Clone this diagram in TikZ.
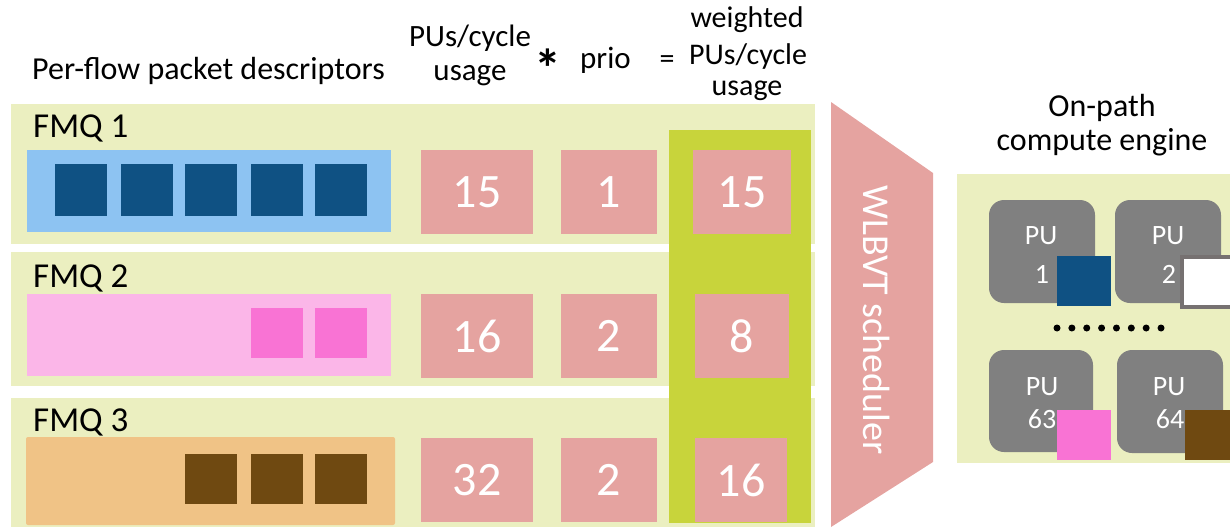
\documentclass[tikz,border=0pt]{standalone}
\usepackage{fontspec}
\setmainfont{Carlito}
\definecolor{band}{HTML}{EBEFC0}
\definecolor{qblue}{HTML}{8DC3F2}
\definecolor{pblue}{HTML}{0F5183}
\definecolor{qpink}{HTML}{FBB6E8}
\definecolor{ppink}{HTML}{F973D4}
\definecolor{qorange}{HTML}{F0C386}
\definecolor{pbrown}{HTML}{6F4911}
\definecolor{numbox}{HTML}{E5A3A0}
\definecolor{wcol}{HTML}{C8D43B}
\definecolor{pugray}{HTML}{808080}
\definecolor{edgegray}{HTML}{767171}
\tikzset{
  hdr/.style={inner sep=0pt, font=\fontsize{30}{36}\selectfont, text=black},
  fmq/.style={inner sep=0pt, font=\fontsize{35}{40}\selectfont, text=black, anchor=base west},
  num/.style={inner sep=0pt, font=\fontsize{48}{56}\selectfont, text=white},
  pulbl/.style={inner sep=0pt, font=\fontsize{28}{34}\selectfont, text=white, anchor=base},
}
\begin{document}
\begin{tikzpicture}[x=1pt,y=-1pt]
\useasboundingbox (0,0) rectangle (1230,527);
% bands
\fill[band] (11,104) rectangle (815,244);
\fill[band] (11,252) rectangle (815,386);
\fill[band] (11,398) rectangle (815,527);
% weighted column
\fill[wcol] (669,130) rectangle (811,523);
% queues
\fill[qblue] (27,150) rectangle (391,232);
\fill[qpink] (27,294) rectangle (391,376);
\fill[qorange, rounded corners=2pt] (26,437) rectangle (395,525);
\foreach \x in {55,121,185,251,315} \fill[pblue] (\x,164) rectangle +(52,52);
\foreach \x in {251,315} \fill[ppink] (\x,308) rectangle +(52,50);
\foreach \x in {185,251,315} \fill[pbrown] (\x,454) rectangle +(52,50);
% FMQ labels
\node[fmq] (fmq1) at (33,137) {FMQ 1};
\node[fmq] (fmq2) at (33,287) {FMQ 2};
\node[fmq] (fmq3) at (33,431) {FMQ 3};
% number boxes
\fill[numbox] (421,150) rectangle (533,234);
\fill[numbox] (561,150) rectangle (657,234);
\fill[numbox] (693,150) rectangle (791,234);
\fill[numbox] (421,294) rectangle (533,378);
\fill[numbox] (561,294) rectangle (657,378);
\fill[numbox] (695,294) rectangle (789,378);
\fill[numbox] (421,438) rectangle (533,522);
\fill[numbox] (561,438) rectangle (657,522);
\fill[numbox] (695,438) rectangle (787,522);
\node[num] (u1) at (477,192) {15};
\node[num] (p1) at (609,192) {1};
\node[num] (w1) at (742,192) {15};
\node[num] (u2) at (477,336) {16};
\node[num] (p2) at (609,336) {2};
\node[num] (w2) at (742,336) {8};
\node[num] (u3) at (477,480) {32};
\node[num] (p3) at (609,480) {2};
\node[num] (w3) at (741,480) {16};
% headers
\node[hdr, anchor=base west, font=\fontsize{32}{36}\selectfont] (pfpd) at (32,79) {Per-flow packet descriptors};
\node[hdr, anchor=base, font=\fontsize{31}{36}\selectfont] (pu1h) at (470,47) {PUs/cycle};
\node[hdr, anchor=base, font=\fontsize{31}{36}\selectfont] (pu2h) at (470,81) {usage};
\node[inner sep=0pt, font=\fontsize{54}{54}\selectfont\bfseries] (star) at (548,68) {*};
\node[hdr, anchor=base west, font=\fontsize{31}{36}\selectfont] (prio) at (580,68) {prio};
\node[inner sep=0pt, font=\fontsize{30}{36}\selectfont] (eq) at (667,62) {=};
\node[hdr, anchor=base] (wh1) at (747,28) {weighted};
\node[hdr, anchor=base] (wh2) at (748,64) {PUs/cycle};
\node[hdr, anchor=base] (wh3) at (747,95) {usage};
% scheduler
\fill[numbox] (831,102) -- (933,173) -- (933,462) -- (831,527) -- cycle;
\node[inner sep=0pt, rotate=-90, anchor=base, font=\fontsize{38}{44}\selectfont, text=white] (sched) at (863,320) {WLBVT scheduler};
% compute engine
\node[hdr, anchor=base, font=\fontsize{32}{36}\selectfont] (ce1) at (1102,116) {On-path};
\node[hdr, anchor=base, font=\fontsize{32}{36}\selectfont] (ce2) at (1102,150) {compute engine};
\fill[band] (957,174) rectangle (1232,463);
\fill[pugray, rounded corners=15pt] (989,200) rectangle (1095,303);
\fill[pugray, rounded corners=15pt] (1115,200) rectangle (1221,303);
\fill[pugray, rounded corners=15pt] (989,350) rectangle (1093,452);
\fill[pugray, rounded corners=15pt] (1117,350) rectangle (1223,453);
\node[pulbl] (l1a) at (1041,244) {PU};
\node[pulbl] (l1b) at (1042,283) {1};
\node[pulbl] (l2a) at (1168,244) {PU};
\node[pulbl] (l2b) at (1169,283) {2};
\node[pulbl] (l3a) at (1042,395) {PU};
\node[pulbl] (l3b) at (1042,428) {63};
\node[pulbl] (l4a) at (1169,395) {PU};
\node[pulbl] (l4b) at (1170,428) {64};
\fill[pblue] (1057,256) rectangle (1111,306);
\filldraw[fill=white, draw=edgegray, line width=4pt] (1182,257) rectangle (1240,307);
\fill[ppink] (1057,410) rectangle (1111,460);
\fill[pbrown] (1185,410) rectangle (1240,460);
\foreach \i in {0,...,7} \fill[black] (1057+\i*14.86,328) circle (3.5);
\end{tikzpicture}
\end{document}
